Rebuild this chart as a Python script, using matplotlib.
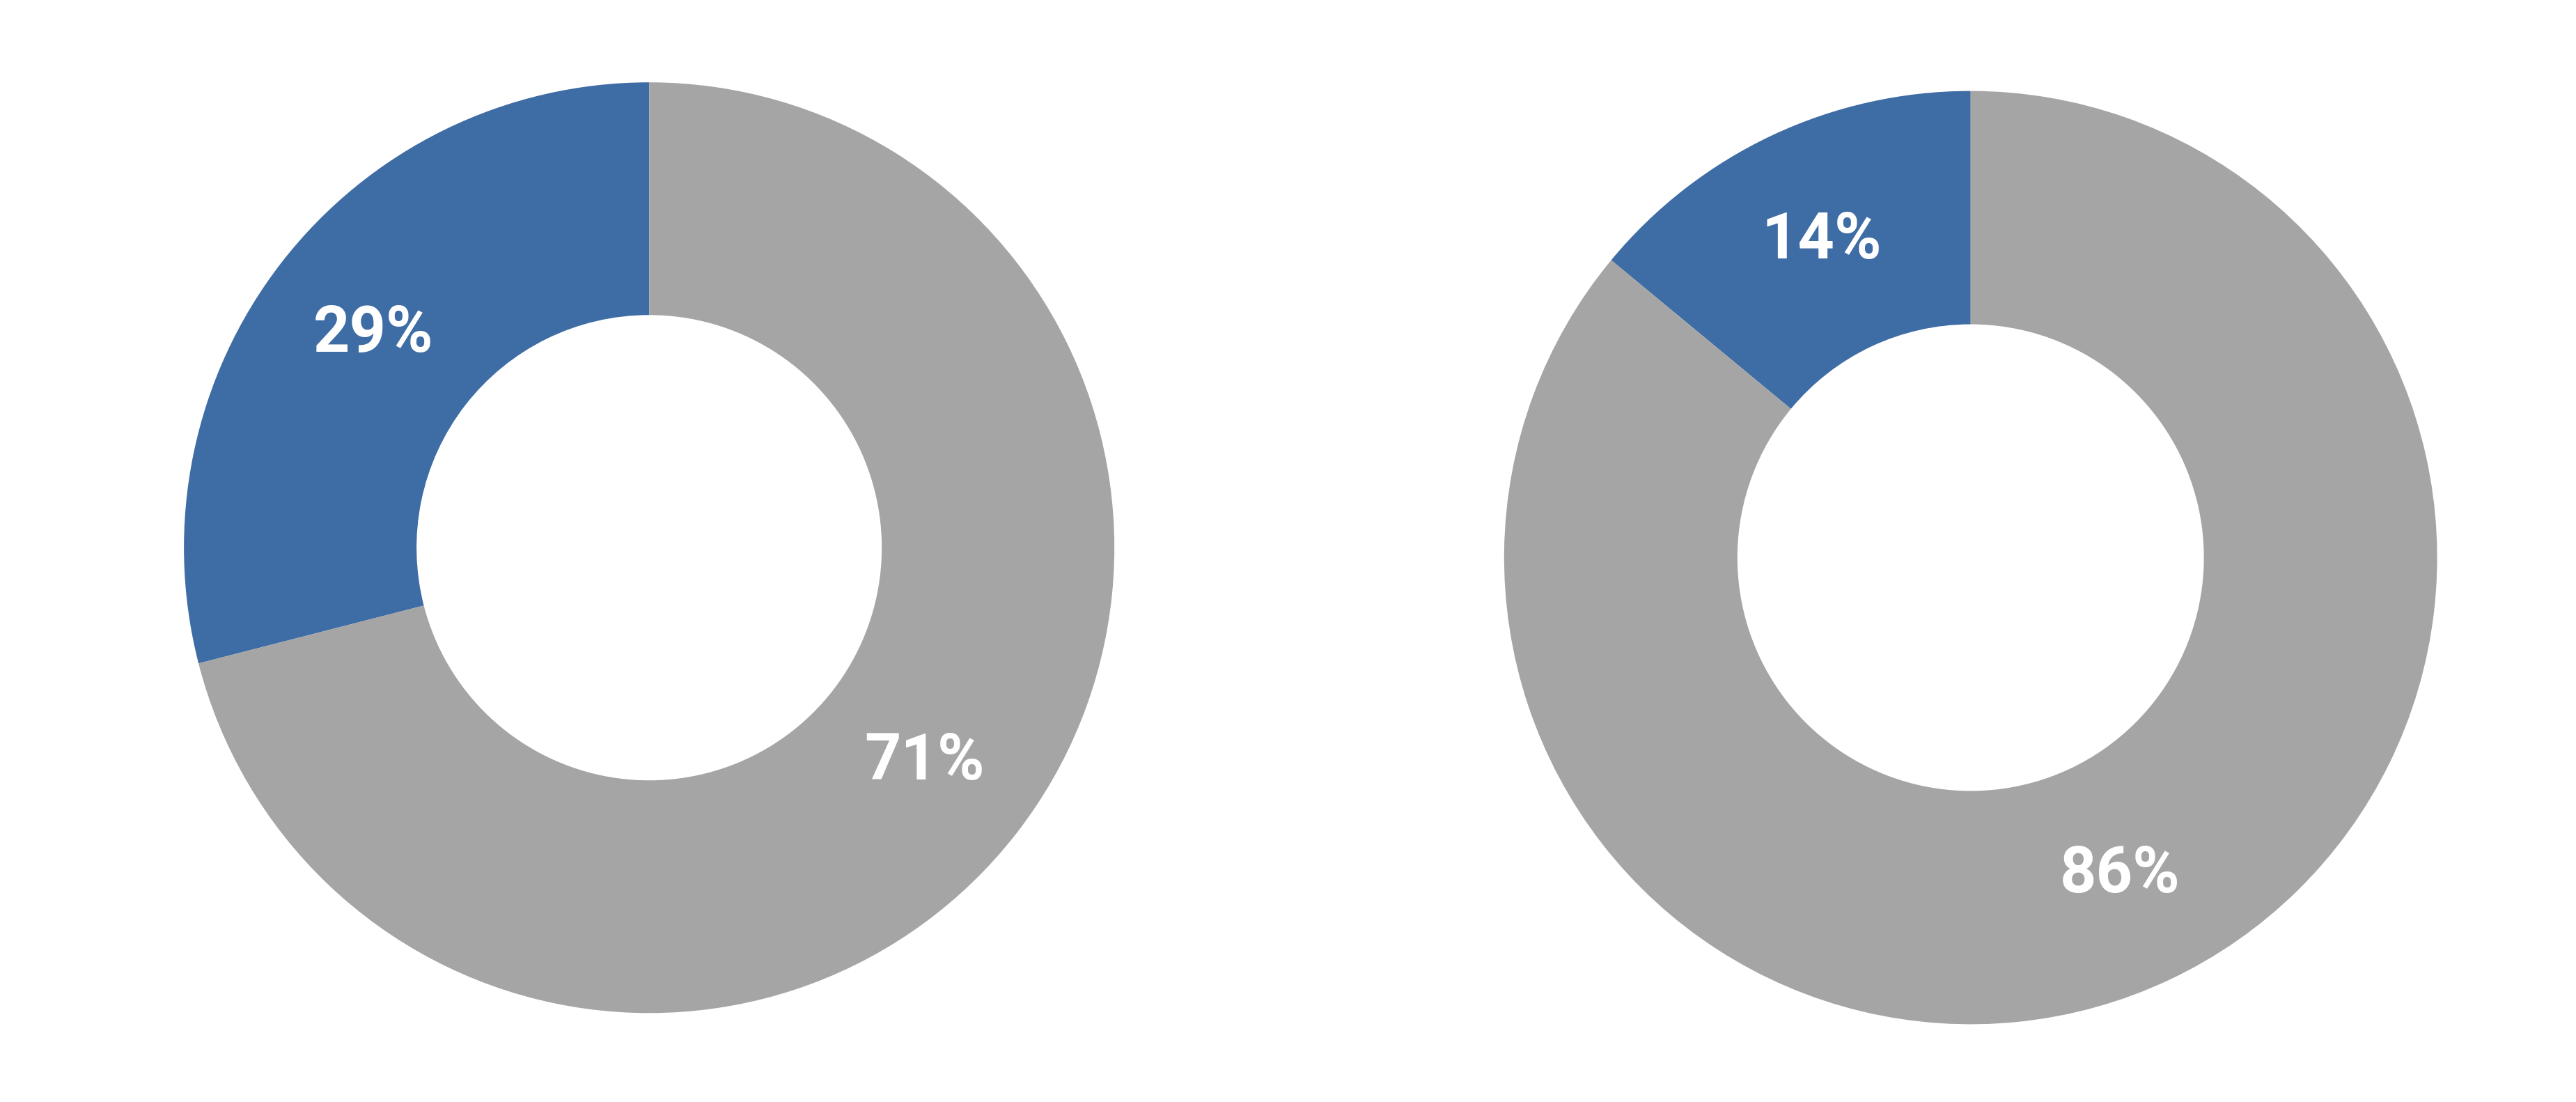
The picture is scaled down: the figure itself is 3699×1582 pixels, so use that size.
import matplotlib.pyplot as plt

# valores de los dos anillos
etiquetas = ['Sí', 'No']
valores_izq = [29, 71]
valores_der = [14, 86]
colores = ['#3E6CA4', '#A5A5A5']

fig = plt.figure(figsize=(36.99, 15.82), dpi=100)

texto = dict(color='white', fontsize=66, family='Roboto', weight='bold')

# anillo izquierdo
ax1 = fig.add_axes([0.252 - 0.1806, 0.503 - 0.4223, 0.3612, 0.8446])
ax1.pie(valores_izq, colors=colores, startangle=90, counterclock=True,
        autopct='%1.0f%%', pctdistance=0.75,
        wedgeprops=dict(width=0.5, linewidth=0), textprops=texto)
ax1.set_xlim(-1, 1)
ax1.set_ylim(-1, 1)
ax1.set_aspect('equal')

# anillo derecho
ax2 = fig.add_axes([0.765 - 0.1811, 0.494 - 0.4235, 0.3622, 0.8470])
ax2.pie(valores_der, colors=colores, startangle=90, counterclock=True,
        autopct='%1.0f%%', pctdistance=0.75,
        wedgeprops=dict(width=0.5, linewidth=0), textprops=texto)
ax2.set_xlim(-1, 1)
ax2.set_ylim(-1, 1)
ax2.set_aspect('equal')

fig.savefig('out.png', dpi=100)
